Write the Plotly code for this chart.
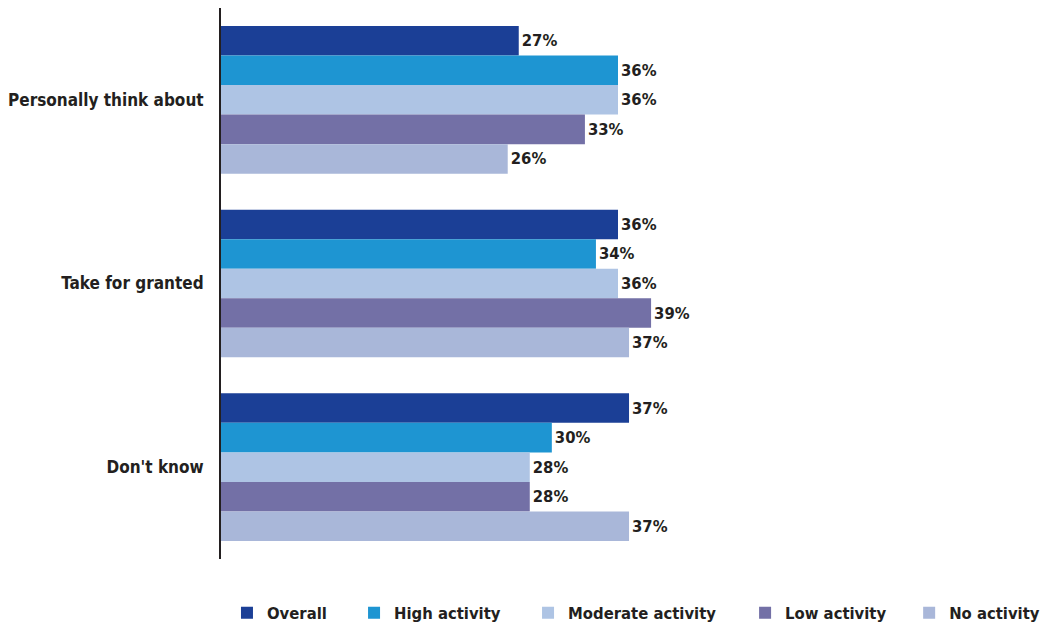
import plotly.graph_objects as go

categories = ["Personally think about", "Take for granted", "Don't know"]
series_names = ["Overall", "High activity", "Moderate activity", "Low activity", "No activity"]
overall = [27, 36, 37]
high_activity = [36, 34, 30]
moderate_activity = [36, 36, 28]
low_activity = [33, 39, 28]
no_activity = [26, 37, 37]
colors = ["#1b3f96", "#1e95d2", "#aec4e4", "#7370a6", "#a9b7d9"]
legend_x = [0.2172, 0.3388, 0.5053, 0.7130, 0.8700]

values = [overall, high_activity, moderate_activity, low_activity, no_activity]
FONT = "DejaVu Sans Condensed, Liberation Sans Narrow, sans-serif"
TXT = "#231f20"

fig = go.Figure()
legend_layout = {}
for i, (name, vals, col) in enumerate(zip(series_names, values, colors)):
    lg = "legend" if i == 0 else f"legend{i+1}"
    fig.add_trace(go.Bar(
        y=categories, x=vals, name=name, orientation="h",
        marker=dict(color=col, line=dict(width=0)),
        text=[f"{v}%" for v in vals], textposition="outside",
        textfont=dict(family=FONT, size=16.5, color=TXT, weight="bold"),
        cliponaxis=False, legend=lg,
    ))
    legend_layout[lg] = dict(
        orientation="h", xref="container", yref="container",
        x=legend_x[i], xanchor="left", y=0.0254, yanchor="middle",
        font=dict(family=FONT, size=16.5, color=TXT, weight="bold"),
        bgcolor="rgba(0,0,0,0)",
    )

fig.update_layout(
    width=1045, height=629,
    margin=dict(l=221, r=30, t=8, b=70),
    barmode="group", bargap=0.196, bargroupgap=0,
    plot_bgcolor="white", paper_bgcolor="white",
    font=dict(family=FONT, size=17, color=TXT, weight="bold"),
    showlegend=True,
    **legend_layout,
)
fig.update_xaxes(range=[0, 72], showgrid=False, zeroline=False, showticklabels=False,
                 showline=False, automargin=False)
fig.update_yaxes(autorange="reversed", showline=True, linecolor=TXT, linewidth=2,
                 showgrid=False, ticks="", ticklabelstandoff=12, automargin=False,
                 tickfont=dict(family=FONT, size=17, color=TXT, weight="bold"))

fig.write_html("out.html")
